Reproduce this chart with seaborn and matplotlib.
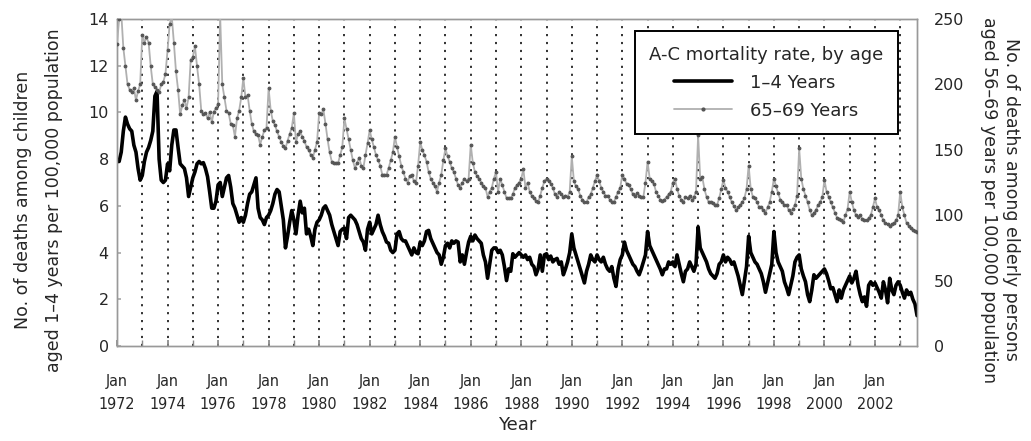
import numpy as np
import pandas as pd
import matplotlib
matplotlib.use("Agg")
import matplotlib.pyplot as plt
from matplotlib.lines import Line2D
import seaborn as sns

# ---------------- data (monthly, Jan 1972 - Sep 2003) ----------------
start_year = 1972
years_tick_labels = ["Jan\n%d" % y for y in range(1972, 2003, 2)]

child_1_4 = [
    # 1972
    7.9, 7.9, 8.3, 9.2, 9.8, 9.5, 9.3, 9.2, 8.6, 8.3, 7.6, 7.1,
    # 1973
    7.3, 7.9, 8.3, 8.5, 8.8, 9.2, 10.7, 10.9, 8.0, 7.1, 7.0, 7.1,
    # 1974
    7.8, 7.5, 8.6, 9.25, 9.25, 8.5, 7.8, 7.7, 7.6, 7.2, 6.4, 6.8,
    # 1975
    7.2, 7.45, 7.8, 7.9, 7.8, 7.85, 7.6, 7.25, 6.6, 5.9, 5.9, 6.2,
    # 1976
    6.9, 7.0, 6.4, 6.8, 7.2, 7.3, 6.8, 6.1, 5.9, 5.6, 5.3, 5.5,
    # 1977
    5.3, 5.6, 6.1, 6.5, 6.6, 6.9, 7.2, 5.9, 5.5, 5.4, 5.2, 5.5,
    # 1978
    5.6, 5.8, 6.1, 6.5, 6.7, 6.6, 6.0, 5.4, 4.2, 4.7, 5.3, 5.8,
    # 1979
    5.4, 4.8, 5.6, 6.2, 5.7, 5.9, 4.8, 5.0, 4.7, 4.3, 5.0, 5.3,
    # 1980
    5.4, 5.6, 5.9, 6.0, 5.8, 5.6, 5.2, 4.9, 4.6, 4.3, 4.9, 5.0,
    # 1981
    5.05, 4.6, 5.5, 5.6, 5.5, 5.4, 5.2, 4.9, 4.6, 4.45, 4.1, 5.0,
    # 1982
    5.3, 4.8, 5.0, 5.2, 5.6, 5.2, 4.9, 4.7, 4.45, 4.4, 4.1, 4.0,
    # 1983
    4.1, 4.8, 4.9, 4.6, 4.5, 4.5, 4.3, 4.1, 3.9, 4.2, 4.0, 3.95,
    # 1984
    4.45, 4.3, 4.5, 4.9, 4.95, 4.6, 4.4, 4.2, 4.0, 3.9, 3.5, 3.8,
    # 1985
    4.3, 4.4, 4.2, 4.5, 4.4, 4.5, 4.45, 3.6, 3.9, 3.5, 4.0, 4.45,
    # 1986
    4.7, 4.5, 4.75, 4.6, 4.5, 4.4, 3.9, 3.6, 2.9, 3.5, 4.1, 4.2,
    # 1987
    4.2, 4.0, 4.1, 3.9, 3.4, 2.8, 3.3, 3.2, 3.95, 3.8, 3.9, 4.0,
    # 1988
    3.9, 3.8, 3.9, 3.7, 3.8, 3.5, 3.4, 3.05, 3.3, 3.9, 3.2, 3.9,
    # 1989
    3.95, 3.7, 3.85, 3.6, 3.7, 3.75, 3.5, 3.6, 3.05, 3.3, 3.6, 4.0,
    # 1990
    4.8, 4.2, 3.9, 3.6, 3.3, 3.0, 2.7, 3.2, 3.5, 3.9, 3.7, 3.6,
    # 1991
    3.9, 3.7, 3.6, 3.8, 3.5, 3.3, 3.2, 3.4, 2.9, 2.55, 3.3, 3.7,
    # 1992
    3.9, 4.45, 4.1, 3.9, 3.7, 3.5, 3.4, 3.2, 3.05, 3.3, 3.6, 3.9,
    # 1993
    4.9, 4.3, 4.1, 3.9, 3.7, 3.5, 3.3, 3.05, 3.3, 3.3, 3.6, 3.5,
    # 1994
    3.6, 3.4, 3.9, 3.5, 3.1, 2.75, 3.2, 3.3, 3.6, 3.4, 3.2, 3.5,
    # 1995
    5.1, 4.2, 4.0, 3.8, 3.6, 3.3, 3.1, 3.0, 2.9, 3.1, 3.5, 3.6,
    # 1996
    3.9, 3.6, 3.8, 3.7, 3.5, 3.6, 3.3, 3.0, 2.6, 2.2, 2.8, 3.4,
    # 1997
    4.7, 4.0, 3.8, 3.6, 3.5, 3.3, 3.1, 2.75, 2.3, 2.7, 3.1, 3.5,
    # 1998
    4.9, 4.0, 3.6, 3.4, 3.2, 2.75, 2.5, 2.2, 2.6, 3.0, 3.6, 3.8,
    # 1999
    3.9, 3.3, 3.0, 2.75, 2.2, 1.9, 2.4, 3.05, 2.9, 3.0, 3.1, 3.2,
    # 2000
    3.3, 3.1, 2.8, 2.45, 2.5, 2.2, 1.9, 2.4, 2.05, 2.4, 2.6, 2.8,
    # 2001
    3.0, 2.7, 2.9, 3.2, 2.6, 2.2, 1.9, 2.1, 1.7, 2.6, 2.75, 2.6,
    # 2002
    2.7, 2.5, 2.3, 2.05, 2.75, 2.4, 1.85, 2.9, 2.4, 2.2, 2.6, 2.75,
    # 2003
    2.6, 2.3, 2.05, 2.4, 2.2, 2.3, 2.0, 1.8, 1.3,
]

elderly_65_69 = [
    # 1972
    231, 250, 255, 228, 214, 200, 196, 194, 197, 188, 195, 200,
    # 1973
    238, 232, 236, 232, 214, 200, 198, 196, 194, 200, 202, 208,
    # 1974
    226, 246, 252, 232, 210, 196, 177, 184, 188, 182, 190, 219,
    # 1975
    221, 229, 214, 200, 180, 177, 178, 174, 179, 171, 179, 182,
    # 1976
    185, 252, 200, 190, 180, 178, 170, 169, 160, 174, 180, 190,
    # 1977
    205, 190, 192, 180, 170, 164, 162, 161, 154, 160, 165, 167,
    # 1978
    197, 180, 172, 169, 164, 160, 156, 153, 151, 157, 162, 167,
    # 1979
    178, 156, 162, 164, 160, 157, 152, 150, 146, 144, 150, 156,
    # 1980
    178, 177, 181, 170, 158, 148, 141, 140, 140, 140, 146, 152,
    # 1981
    174, 166, 158, 150, 142, 136, 140, 144, 138, 136, 146, 155,
    # 1982
    165, 158, 152, 146, 142, 138, 131, 131, 131, 136, 142, 148,
    # 1983
    160, 152, 145, 138, 133, 128, 125, 130, 131, 126, 125, 138,
    # 1984
    156, 150, 146, 141, 133, 128, 125, 122, 118, 125, 131, 142,
    # 1985
    151, 145, 141, 136, 133, 128, 123, 121, 125, 128, 126, 128,
    # 1986
    154, 140, 133, 130, 128, 125, 122, 121, 114, 118, 121, 128,
    # 1987
    133, 118, 128, 123, 118, 113, 113, 113, 116, 121, 123, 125,
    # 1988
    128, 135, 121, 125, 118, 115, 113, 111, 110, 115, 121, 126,
    # 1989
    128, 126, 124, 121, 116, 114, 118, 116, 114, 115, 114, 118,
    # 1990
    145, 126, 122, 120, 115, 112, 110, 110, 114, 116, 121, 126,
    # 1991
    131, 126, 121, 118, 115, 115, 112, 110, 110, 114, 118, 121,
    # 1992
    131, 128, 124, 123, 120, 116, 115, 117, 115, 114, 114, 125,
    # 1993
    141, 128, 126, 124, 118, 115, 112, 111, 112, 114, 116, 118,
    # 1994
    125, 128, 120, 115, 112, 110, 114, 113, 115, 112, 114, 118,
    # 1995
    161, 128, 129, 120, 114, 110, 110, 109, 108, 108, 113, 120,
    # 1996
    127, 121, 118, 114, 110, 107, 104, 106, 108, 110, 113, 120,
    # 1997
    138, 120, 114, 113, 110, 106, 106, 104, 102, 106, 110, 118,
    # 1998
    128, 122, 117, 112, 110, 108, 108, 104, 102, 105, 108, 115,
    # 1999
    151, 128, 120, 115, 110, 104, 100, 102, 104, 108, 110, 114,
    # 2000
    127, 118, 114, 110, 106, 102, 98, 97, 96, 95, 100, 105,
    # 2001
    118, 110, 104, 100, 99, 100, 97, 96, 96, 98, 100, 106,
    # 2002
    113, 106, 104, 100, 96, 94, 93, 92, 93, 94, 96, 100,
    # 2003
    118, 106, 100, 94, 92, 90, 89, 88, 87,
]

n = min(len(child_1_4), len(elderly_65_69))
t = start_year + np.arange(n) / 12.0
df = pd.DataFrame({"t": t,
                   "child": child_1_4[:n],
                   "elderly": elderly_65_69[:n]})

# ---------------- figure ----------------
sns.set_theme(style="white")
plt.rcParams["font.family"] = ["DejaVu Sans"]

fig = plt.figure(figsize=(10.31, 4.41), dpi=100)
ax = fig.add_axes([0.1135, 0.2154, 0.776, 0.7415])
ax2 = ax.twinx()

# yearly dotted verticals
for y in range(1973, 2004):
    ax.axvline(y, color="#222222", linestyle=(0, (1.2, 3.2)), linewidth=1.3, zorder=0)

sns.lineplot(data=df, x="t", y="child", ax=ax, color="black", linewidth=2.6,
             legend=False, zorder=3)
sns.lineplot(data=df, x="t", y="elderly", ax=ax2, color="#b0b0b0", linewidth=1.3,
             marker="o", markersize=2.0, markerfacecolor="#555555",
             markeredgecolor="#555555", legend=False, zorder=3)

x_end = start_year + (n - 1) / 12.0
ax.set_xlim(start_year, x_end)
ax.set_ylim(0, 14)
ax2.set_ylim(0, 250)
ax.set_yticks(np.arange(0, 15, 2))
ax2.set_yticks(np.arange(0, 251, 50))

ax.set_xticks(np.arange(1972, 2003, 2))
ax.set_xticklabels(years_tick_labels, fontsize=11.5, linespacing=1.7,
                   fontstretch="condensed")
ax.set_xticks(np.arange(1972, 2004, 1), minor=True)
ax.tick_params(axis="x", which="both", direction="in", length=4, color="#888888",
               bottom=True, pad=20)
ax.tick_params(axis="y", direction="in", length=3, color="#aaaaaa", labelsize=11.5,
               left=True, pad=6)
ax2.tick_params(axis="y", direction="in", length=0, labelsize=11.5, right=True, pad=12)

for a in (ax, ax2):
    for s in a.spines.values():
        s.set_color("#999999")
        s.set_linewidth(1.0)

ax.set_xlabel("Year", fontsize=13, labelpad=3)
ax.set_ylabel("No. of deaths among children\naged 1\u20134 years per 100,000 population",
              fontsize=12.5, linespacing=1.9)
ax.yaxis.set_label_coords(-0.068, 0.447)
ax2.set_ylabel("No. of deaths among elderly persons\naged 56\u201369 years per 100,000 population",
               fontsize=12.5, rotation=270, linespacing=1.3, va="center")
ax2.yaxis.set_label_coords(1.104, 0.447)

handles = [
    Line2D([], [], color="black", linewidth=2.6),
    Line2D([], [], color="#b0b0b0", linewidth=1.3, marker="o", markersize=2.0,
           markerfacecolor="#555555", markeredgecolor="#555555"),
]
leg = ax2.legend(handles, ["1\u20134 Years", "65\u201369 Years"],
                 title="A-C mortality rate, by age",
                 loc="upper right", bbox_to_anchor=(0.976, 0.962),
                 fontsize=13, title_fontsize=13, frameon=True, fancybox=False,
                 edgecolor="black", framealpha=1, handlelength=3.2,
                 borderpad=0.8, labelspacing=0.55, handletextpad=1.0,
                 borderaxespad=0)
leg.get_frame().set_linewidth(1.4)

fig.savefig("out.png", dpi=100)
